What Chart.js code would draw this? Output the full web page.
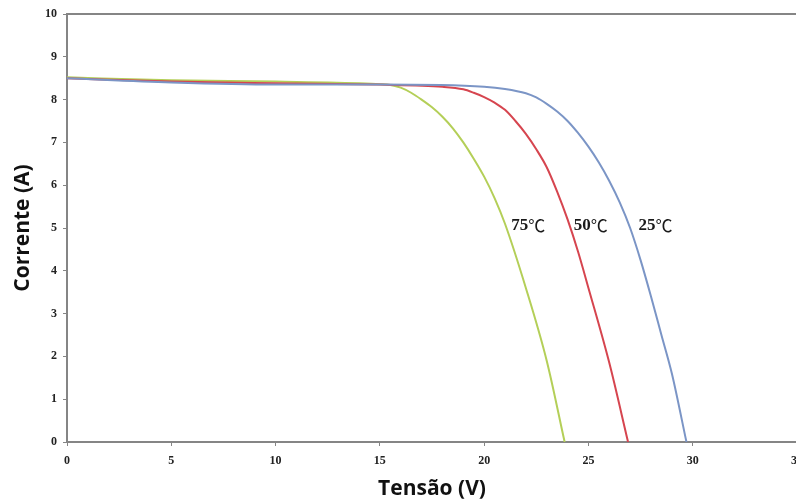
<!DOCTYPE html>
<html>
<head>
<meta charset="utf-8">
<script src="https://cdn.jsdelivr.net/npm/chart.js@4/dist/chart.umd.min.js"></script>
<style>
  body { margin: 0; background: #fff; overflow: hidden; }
  #wrap { width: 796px; height: 502px; overflow: hidden; }
</style>
</head>
<body>
<div id="wrap"><canvas id="cv" width="830" height="502"></canvas></div>
<script>
// Curvas I-V por temperatura
const v25 = [0, 5, 10, 15, 20, 21, 22, 22.5, 23, 23.5, 24, 24.5, 25, 25.5, 26, 26.5, 27, 27.5, 28, 28.5, 29, 29.7];
const i25 = [8.5, 8.4, 8.35, 8.35, 8.3, 8.25, 8.15, 8.05, 7.9, 7.72, 7.5, 7.22, 6.9, 6.53, 6.1, 5.6, 5.0, 4.25, 3.4, 2.5, 1.6, 0];

const v50 = [0, 5, 10, 15, 18, 19, 19.5, 20, 20.5, 21, 21.5, 22, 22.5, 23, 23.5, 24, 24.5, 25, 26, 26.9];
const i50 = [8.5, 8.42, 8.38, 8.35, 8.3, 8.24, 8.16, 8.06, 7.93, 7.76, 7.5, 7.2, 6.84, 6.42, 5.85, 5.2, 4.45, 3.6, 1.85, 0];

const v75 = [0, 5, 10, 14, 15, 15.5, 16, 16.5, 17, 17.5, 18, 18.5, 19, 19.5, 20, 20.5, 21, 22, 23, 23.86];
const i75 = [8.52, 8.45, 8.42, 8.38, 8.36, 8.34, 8.28, 8.16, 8.0, 7.82, 7.6, 7.33, 7.0, 6.62, 6.2, 5.7, 5.1, 3.6, 1.9, 0];

// Rótulos das curvas
const labelText = ['75', '50', '25'];
const labelV = [21.3, 24.3, 27.4];
const labelI = [5.05, 5.05, 5.05];

const AXIS = '#858585';

function pts(xs, ys) { return xs.map((x, k) => ({ x: x, y: ys[k] })); }

function serie(xs, ys, color) {
    return {
        data: pts(xs, ys),
        borderColor: color,
        borderWidth: 2,
        pointRadius: 0,
        cubicInterpolationMode: 'monotone',
        fill: false
    };
}

const tickFont = { family: '"Liberation Serif", "DejaVu Serif", serif', size: 12, weight: 'bold' };
const titleFont = { family: '"Open Sans", "Noto Sans", sans-serif', size: 21, weight: 'bold' };

// borda superior + rótulos de temperatura
const extras = {
    id: 'extras',
    afterDraw(chart) {
        const { ctx, chartArea, scales } = chart;
        ctx.save();
        ctx.strokeStyle = AXIS;
        ctx.lineWidth = 2;
        ctx.beginPath();
        ctx.moveTo(chartArea.left, chartArea.top);
        ctx.lineTo(chartArea.right, chartArea.top);
        ctx.stroke();

        ctx.textBaseline = 'middle';
        ctx.textAlign = 'left';
        ctx.fillStyle = '#1a1a1a';
        labelText.forEach((t, k) => {
            const x = scales.x.getPixelForValue(labelV[k]);
            const y = scales.y.getPixelForValue(labelI[k]);
            ctx.font = 'bold 17px "Liberation Serif", serif';
            ctx.fillText(t, x, y);
            const w = ctx.measureText(t).width;
            ctx.font = '17px "Noto Sans CJK SC", serif';
            ctx.fillText('\u2103', x + w, y);
        });
        ctx.restore();
    }
};

new Chart(document.getElementById('cv'), {
    type: 'line',
    data: {
        datasets: [
            serie(v25, i25, '#7b95c6'),
            serie(v50, i50, '#d6454f'),
            serie(v75, i75, '#b4cf58')
        ]
    },
    options: {
        responsive: false,
        animation: false,
        events: [],
        layout: { padding: { top: 14, right: 33, left: 0, bottom: 0 } },
        plugins: { legend: { display: false }, tooltip: { enabled: false } },
        scales: {
            x: {
                type: 'linear',
                min: 0, max: 35,
                afterFit: (s) => { s.height = 60; },
                border: { display: true, color: AXIS, width: 2 },
                grid: { drawOnChartArea: false, color: AXIS, tickLength: 4 },
                ticks: { stepSize: 5, font: tickFont, color: '#222', padding: 8, maxRotation: 0 },
                title: { display: true, text: 'Tensão (V)', font: titleFont, color: '#111', padding: { top: 0, bottom: 0 } }
            },
            y: {
                min: 0, max: 10,
                afterFit: (s) => { s.width = 67; },
                border: { display: true, color: AXIS, width: 2 },
                grid: { drawOnChartArea: false, color: AXIS, tickLength: 4 },
                ticks: { stepSize: 1, font: tickFont, color: '#222', padding: 6 },
                title: { display: true, text: 'Corrente (A)', font: titleFont, color: '#111', padding: { top: 10, bottom: 0 } }
            }
        }
    },
    plugins: [extras]
});
</script>
</body>
</html>
